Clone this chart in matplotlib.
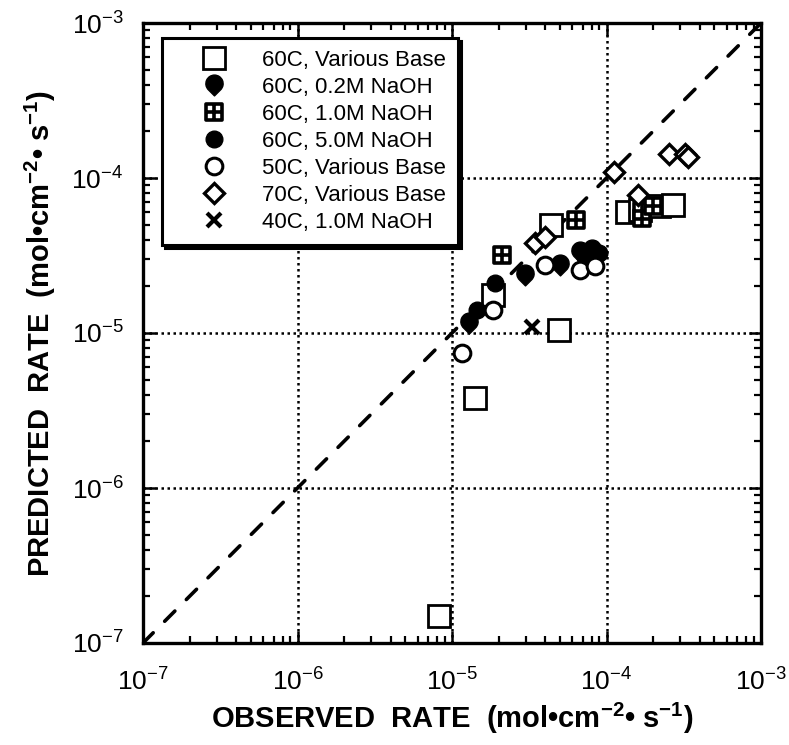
import numpy as np
import matplotlib
matplotlib.use("Agg")
import matplotlib.pyplot as plt
from matplotlib.path import Path
from matplotlib.lines import Line2D

plt.rcParams['font.family'] = ['Liberation Sans', 'DejaVu Sans']
plt.rcParams['mathtext.fontset'] = 'custom'
plt.rcParams['mathtext.rm'] = 'Liberation Sans'
plt.rcParams['mathtext.bf'] = 'Liberation Sans:bold'
plt.rcParams['mathtext.default'] = 'regular'

# ---------------- data ----------------
labels = ["60C, Various Base", "60C, 0.2M NaOH", "60C, 1.0M NaOH",
          "60C, 5.0M NaOH", "50C, Various Base", "70C, Various Base",
          "40C, 1.0M NaOH"]

obs_60_various = [8.3e-6, 1.41e-5, 1.85e-5, 4.4e-5, 4.9e-5, 1.35e-4, 1.65e-4, 2.2e-4, 2.7e-4]
pred_60_various = [1.5e-7, 3.8e-6, 1.76e-5, 4.97e-5, 1.05e-5, 6.0e-5, 6.2e-5, 6.6e-5, 6.7e-5]

obs_60_02 = [1.28e-5, 2.97e-5, 5.0e-5, 6.7e-5, 8.0e-5]
pred_60_02 = [1.16e-5, 2.37e-5, 2.75e-5, 3.35e-5, 3.43e-5]

obs_60_10 = [2.1e-5, 6.35e-5, 1.69e-4, 1.69e-4, 2.0e-4]
pred_60_10 = [3.2e-5, 5.36e-5, 5.5e-5, 6.1e-5, 6.6e-5]

obs_60_50 = [1.45e-5, 1.9e-5, 7.3e-5, 9.0e-5]
pred_60_50 = [1.41e-5, 2.1e-5, 3.1e-5, 3.3e-5]

obs_50_various = [1.16e-5, 1.85e-5, 4.0e-5, 6.7e-5, 8.4e-5]
pred_50_various = [7.4e-6, 1.4e-5, 2.75e-5, 2.55e-5, 2.7e-5]

obs_70_various = [3.44e-5, 4.0e-5, 1.11e-4, 1.61e-4, 2.55e-4, 3.2e-4, 3.35e-4]
pred_70_various = [3.79e-5, 4.18e-5, 1.10e-4, 7.8e-5, 1.43e-4, 1.42e-4, 1.37e-4]

obs_40_10 = [3.28e-5]
pred_40_10 = [1.1e-5]

diag = [1e-7, 1e-3]

# ---------------- custom markers ----------------
arc = Path.arc(-45, 225)
tv = np.vstack([arc.vertices, [[0, -np.sqrt(2)], [0, 0]]])
tv[:, 1] += (np.sqrt(2) - 1) / 2
tc = list(arc.codes) + [Path.LINETO, Path.CLOSEPOLY]
teardrop = Path(tv, tc)

gv = [(-1, -1), (1, -1), (1, 1), (-1, 1), (-1, -1),
      (0, -1), (0, 1), (-1, 0), (1, 0)]
gc = [Path.MOVETO, Path.LINETO, Path.LINETO, Path.LINETO, Path.CLOSEPOLY,
      Path.MOVETO, Path.LINETO, Path.MOVETO, Path.LINETO]
gridsq = Path(gv, gc)

# ---------------- figure ----------------
fig = plt.figure(figsize=(7.89, 7.45), dpi=100)
ax = fig.add_axes([143/789, (745-643)/745, 618/789, 620/745])
ax.set_xscale('log')
ax.set_yscale('log')
ax.set_xlim(1e-7, 1e-3)
ax.set_ylim(1e-7, 1e-3)

ax.grid(True, which='major', color='black', linestyle=(0, (1, 1.4)), linewidth=1.8, zorder=1)
ax.set_axisbelow(True)

ax.plot(diag, diag, color='black', linewidth=2.6, linestyle=(0, (4, 4.5)),
        dash_capstyle='round', zorder=2)

styles = [
    dict(marker='s', ms=16, mfc='white', mec='black', mew=2.0),
    dict(marker=teardrop, ms=15, mfc='black', mec='black', mew=1.0),
    dict(marker=gridsq, ms=11.5, mfc='white', mec='black', mew=2.6),
    dict(marker='o', ms=12, mfc='black', mec='black', mew=1.0),
    dict(marker='o', ms=12, mfc='white', mec='black', mew=2.2),
    dict(marker='D', ms=10, mfc='white', mec='black', mew=2.4),
    dict(marker='x', ms=10, mfc='black', mec='black', mew=3.0),
]
series = [(obs_60_various, pred_60_various), (obs_60_02, pred_60_02),
          (obs_60_10, pred_60_10), (obs_60_50, pred_60_50),
          (obs_50_various, pred_50_various), (obs_70_various, pred_70_various),
          (obs_40_10, pred_40_10)]

handles = []
for (xs, ys), st, lab in zip(series, styles, labels):
    ax.plot(xs, ys, linestyle='none', zorder=3, **st)
    handles.append(Line2D([], [], linestyle='none', label=lab, **st))

for s in ax.spines.values():
    s.set_linewidth(2.4)

ax.tick_params(which='both', direction='in', top=True, right=True, colors='black')
ax.tick_params(which='major', length=9, width=1.8, labelsize=19)
ax.tick_params(which='minor', length=5, width=1.6)
ax.tick_params(axis='x', which='major', pad=18)
ax.tick_params(axis='y', which='major', pad=14)

ax.set_xlabel("OBSERVED  RATE  (mol\u2022cm$^{-2}$\u2022 s$^{-1}$)",
              fontsize=21, fontweight='bold', labelpad=4)
ax.set_ylabel("PREDICTED  RATE  (mol\u2022cm$^{-2}$\u2022 s$^{-1}$)",
              fontsize=21, fontweight='bold', labelpad=10)

leg = ax.legend(handles=handles, loc='upper left', bbox_to_anchor=(0.031, 0.976),
                borderaxespad=0, fontsize=16, frameon=True, fancybox=False,
                framealpha=1, edgecolor='black', facecolor='white',
                shadow={'color': 'black', 'alpha': 1},
                handlelength=3.6, handletextpad=0.35, labelspacing=0.27,
                borderpad=0.55)
leg.get_frame().set_linewidth(2.2)
leg.set_zorder(5)

fig.savefig("out.png", dpi=100)
